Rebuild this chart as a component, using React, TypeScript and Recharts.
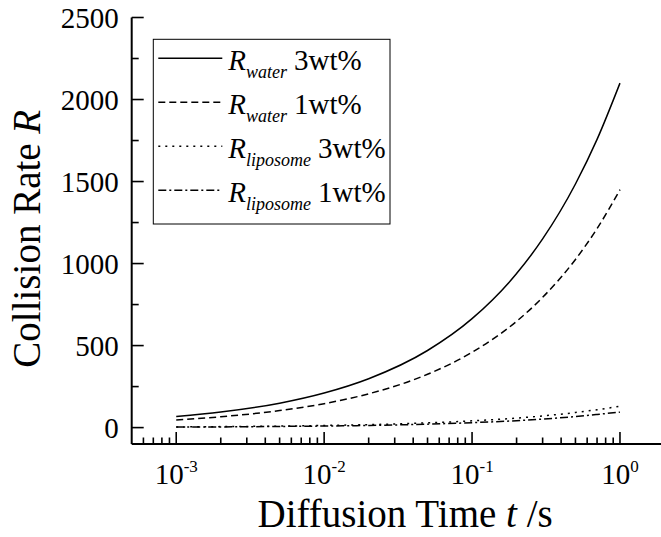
import React from "react";
import { LineChart, Line, XAxis, YAxis } from "recharts";

// ---------------- data ----------------
const times = [0.001, 0.002, 0.005, 0.01, 0.02, 0.05, 0.1, 0.2, 0.3, 0.5, 0.7, 1];
const waterHigh = [68, 95, 149, 211, 298, 470, 664, 939, 1150, 1485, 1757, 2100];
const waterLow = [47, 66, 104, 146, 206, 325, 459, 648, 794, 1025, 1213, 1450];
const liposomeHigh = [4, 6, 9, 13, 18, 29, 41, 58, 71, 92, 109, 130];
const liposomeLow = [3, 4, 7, 9.5, 13, 21, 30, 42, 52, 67, 80, 95];

const seriesKeys = ["waterHigh", "waterLow", "liposomeHigh", "liposomeLow"];
const seriesSub = ["water", "water", "liposome", "liposome"];
const seriesConc = ["3wt%", "1wt%", "3wt%", "1wt%"];
const seriesDash = ["", "7 4", "2 5", "8 3 2 3"];

const xMajorTicks = [0.001, 0.01, 0.1, 1];
const xMajorExp = ["-3", "-2", "-1", "0"];
const xMinorTicks = [
  0.0006, 0.0007, 0.0008, 0.0009,
  0.002, 0.003, 0.004, 0.005, 0.006, 0.007, 0.008, 0.009,
  0.02, 0.03, 0.04, 0.05, 0.06, 0.07, 0.08, 0.09,
  0.2, 0.3, 0.4, 0.5, 0.6, 0.7, 0.8, 0.9,
];
const yMajorTicks = [0, 500, 1000, 1500, 2000, 2500];
const yMinorTicks = [250, 750, 1250, 1750, 2250];

const xDomain = [0.0005, 2];
const yDomain = [-100, 2500];

const tableData = times.map((t, i) => ({
  t,
  waterHigh: waterHigh[i],
  waterLow: waterLow[i],
  liposomeHigh: liposomeHigh[i],
  liposomeLow: liposomeLow[i],
}));

const FONT = "Liberation Serif";
const xTicksAll = [...xMajorTicks, ...xMinorTicks].sort((a, b) => a - b);
const yTicksAll = [...yMajorTicks, ...yMinorTicks].sort((a, b) => a - b);

const isMajorX = (v: number) => xMajorTicks.some((m) => Math.abs(m - v) / m < 1e-6);

const XTick = (props: any) => {
  const { x, y, payload, side } = props;
  const v = payload.value;
  const major = isMajorX(v);
  const len = major ? 12 : 6.5;
  const dir = side === "bottom" ? -1 : 1;
  const idx = xMajorTicks.findIndex((m) => Math.abs(m - v) / m < 1e-6);
  return (
    <g>
      <line x1={x} x2={x} y1={y} y2={y + dir * len} stroke="#000" strokeWidth={1.6} />
      {side === "bottom" && major && (
        <text x={x} y={y + 39.5} textAnchor="middle" fontFamily={FONT} fontSize={29} fill="#000">
          10
          <tspan dy={-12} fontSize={17}>
            {xMajorExp[idx]}
          </tspan>
        </text>
      )}
    </g>
  );
};

const YTick = (props: any) => {
  const { x, y, payload, side } = props;
  const v = payload.value;
  const major = yMajorTicks.includes(v);
  const len = major ? 12 : 7;
  const dir = side === "left" ? 1 : -1;
  return (
    <g>
      <line x1={x} x2={x + dir * len} y1={y} y2={y} stroke="#000" strokeWidth={1.6} />
      {side === "left" && major && (
        <text x={x - 13} y={y + 10} textAnchor="end" fontFamily={FONT} fontSize={29} fill="#000">
          {v}
        </text>
      )}
    </g>
  );
};

const ChartLegend = () => {
  const left = 153.3;
  const top = 39.3;
  const rowGap = 44;
  return (
    <g>
      <rect x={left} y={top} width={236.7} height={184.7} fill="#fff" stroke="#000" strokeWidth={1} />
      {seriesKeys.map((k, i) => {
        const ly = top + 19 + i * rowGap;
        return (
          <g key={k}>
            <line
              x1={left + 5}
              x2={left + 69}
              y1={ly}
              y2={ly}
              stroke="#000"
              strokeWidth={1.5}
              strokeDasharray={seriesDash[i] || undefined}
            />
            <text x={left + 75} y={ly + 12} fontFamily={FONT} fontSize={29} fill="#000">
              <tspan fontStyle="italic">R</tspan>
              <tspan fontStyle="italic" fontSize={18} dy={8}>
                {seriesSub[i]}
              </tspan>
              <tspan dy={-8} dx={7}>
                {seriesConc[i]}
              </tspan>
            </text>
          </g>
        );
      })}
    </g>
  );
};

const XTitle = (props: any) => {
  const vb = props.viewBox;
  return (
    <text
      x={vb.x + vb.width / 2 + 7}
      y={vb.y + 83}
      textAnchor="middle"
      fontFamily={FONT}
      fontSize={39}
      fill="#000"
    >
      Diffusion Time <tspan fontStyle="italic">t</tspan> /s
    </text>
  );
};

const YTitle = (props: any) => {
  const vb = props.viewBox;
  const cx = 40;
  const cy = vb.y + vb.height / 2 + 8;
  return (
    <text
      x={cx}
      y={cy}
      transform={`rotate(-90 ${cx} ${cy})`}
      textAnchor="middle"
      fontFamily={FONT}
      fontSize={39}
      fill="#000"
    >
      Collision Rate <tspan fontStyle="italic">R</tspan>
    </text>
  );
};

export default function App() {
  return (
    <div
      style={{
        position: "absolute",
        left: 0,
        top: 0,
        width: 661,
        height: 537,
        overflow: "hidden",
        background: "#fff",
      }}
    >
      <LineChart
        width={680}
        height={537}
        data={tableData}
        margin={{ top: 17.5, right: 15.5, bottom: 0, left: 0 }}
      >
        <XAxis
          dataKey="t"
          type="number"
          scale="log"
          domain={xDomain}
          allowDataOverflow
          ticks={xTicksAll}
          interval={0}
          height={93}
          tickSize={0}
          tickMargin={0}
          tickLine={false}
          axisLine={{ stroke: "#000", strokeWidth: 2 }}
          tick={<XTick side="bottom" />}
          label={{ content: <XTitle /> }}
        />
        <XAxis
          xAxisId="top"
          orientation="top"
          dataKey="t"
          type="number"
          scale="log"
          domain={xDomain}
          allowDataOverflow
          ticks={xTicksAll}
          interval={0}
          height={0}
          tickSize={0}
          tickMargin={0}
          tickLine={false}
          axisLine={{ stroke: "#000", strokeWidth: 2 }}
          tick={<XTick side="top" />}
        />
        <YAxis
          type="number"
          domain={yDomain}
          allowDataOverflow
          ticks={yTicksAll}
          interval={0}
          width={131.7}
          tickSize={0}
          tickMargin={0}
          tickLine={false}
          axisLine={{ stroke: "#000", strokeWidth: 2 }}
          tick={<YTick side="left" />}
          label={{ content: <YTitle /> }}
        />
        <YAxis
          yAxisId="right"
          orientation="right"
          type="number"
          domain={yDomain}
          allowDataOverflow
          ticks={yTicksAll}
          interval={0}
          width={0}
          tickSize={0}
          tickMargin={0}
          tickLine={false}
          axisLine={{ stroke: "#000", strokeWidth: 2 }}
          tick={<YTick side="right" />}
        />
        {seriesKeys.map((k, i) => (
          <Line
            key={k}
            dataKey={k}
            type="monotone"
            stroke="#000"
            strokeWidth={1.5}
            strokeDasharray={seriesDash[i] || undefined}
            dot={false}
            activeDot={false}
            isAnimationActive={false}
          />
        ))}
        <ChartLegend />
      </LineChart>
    </div>
  );
}
